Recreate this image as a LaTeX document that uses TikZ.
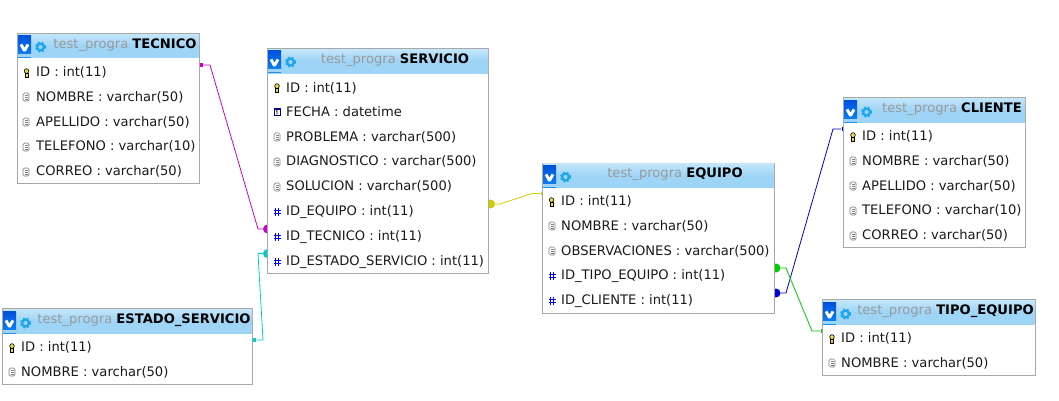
\documentclass[tikz,border=0pt]{standalone}
\usepackage{fontspec}
\setmainfont{DejaVu Sans}
\usetikzlibrary{positioning}
\definecolor{headblue}{HTML}{9ED4F6}
\definecolor{headtop}{HTML}{C4E6FA}
\definecolor{boxgrey}{HTML}{A8A8A8}
\definecolor{titlegrey}{HTML}{999999}
\definecolor{textblack}{HTML}{1A1A1A}
\definecolor{icontop}{HTML}{0050DC}
\definecolor{iconlow}{HTML}{0C7CF0}
\definecolor{iconline}{HTML}{1E90F0}
\definecolor{gearblue}{HTML}{1CA6EC}
\definecolor{keyyellow}{HTML}{E8D84A}
\definecolor{colgrey}{HTML}{808080}
\definecolor{relmagenta}{HTML}{CC00CC}
\definecolor{relcyan}{HTML}{00CCCC}
\definecolor{relyellow}{HTML}{CCCC00}
\definecolor{relblue}{HTML}{0000CC}
\definecolor{relgreen}{HTML}{00CC00}
\tikzset{tablebox/.style={draw=boxgrey, fill=white, line width=1pt, anchor=north west,
    inner sep=0pt, outer sep=0pt}}
\tikzset{headbar/.style={anchor=north west, inner sep=0pt, outer sep=0pt, top color=headtop,
    bottom color=headblue, middle color=headblue}}
\tikzset{tabletitle/.style={inner sep=0pt, anchor=base, font=\fontsize{13.1pt}{15pt}\selectfont}}
\tikzset{fieldtext/.style={inner sep=0pt, anchor=base west, text=textblack,
    font=\fontsize{13.1pt}{15pt}\selectfont}}
\tikzset{fkdot/.style={circle, fill=#1, inner sep=0pt, minimum size=9pt}}
\tikzset{pkmark/.style={rectangle, fill=#1, inner sep=0pt, minimum size=3.4pt}}
\tikzset{relline/.style={draw=#1, line width=.8pt}}
\tikzset{
  vicon/.pic={
    \shade[top color=icontop, bottom color=iconlow] (-8,-10) rectangle (5,8);
    \fill[iconline] (-8,11.5) rectangle (5,13);
    \draw[white, line width=2.9pt, line join=bevel] (-5,-.6) -- (-1.5,5.6) -- (2,-.6);
  },
  gearicon/.pic={
    \draw[gearblue, line width=2.2pt] (0,0) circle (3.4);
    \draw[gearblue, line width=1.1pt, dash pattern=on 2pt off 2.2pt] (0,0) circle (5.2);
  },
  keyicon/.pic={
    \draw[black, fill=keyyellow, line width=.6pt] (0,-2) circle (2.3);
    \draw[black, fill=keyyellow, line width=.6pt] (-1.3,0) rectangle (1.3,4);
    \draw[keyyellow, line width=.9pt] (-.8,-.4) -- (.8,-.4);
  },
  colicon/.pic={
    \draw[colgrey, fill=white, line width=.7pt, rounded corners=1.5pt] (-3,-4) rectangle (3,4);
    \draw[colgrey, line width=.6pt] (-1.5,-1.5) -- (1.5,-1.5) (-1.5,.5) -- (1.5,.5) (-1.5,2.5) -- (1.5,2.5);
  },
  dateicon/.pic={
    \draw[relblue!70!black, fill=white, line width=.8pt] (-3,-3.5) rectangle (3,3.5);
    \draw[relblue!70!black, line width=1.4pt] (-3,-3) -- (3,-3);
    \draw[black, line width=.7pt] (-1,-.8) -- (0,-1.5) -- (0,2.5);
  },
  hashicon/.pic={
    \draw[blue, line width=.9pt] (-1.4,-4) -- (-1.4,4) (1.4,-4) -- (1.4,4)
      (-3.5,-1.5) -- (3.5,-1.5) (-3.5,1.5) -- (3.5,1.5);
  }
}

\begin{document}
\begin{tikzpicture}[x=1pt, y=-1pt]
    \useasboundingbox (0,0) rectangle (1059,400);
    % relation ends
    \node[pkmark=relmagenta] (tecnicopk) at (201.5,65) {};
    \node[fkdot=relmagenta] (serviciotec) at (267.5,229) {};
    \node[pkmark=relcyan] (estadopk) at (254.5,340) {};
    \node[fkdot=relcyan] (servicioest) at (267.5,253.5) {};
    \node[pkmark=relyellow] (equipopk) at (542.3,193.5) {};
    \node[fkdot=relyellow] (servicioequ) at (490.5,204) {};
    \node[pkmark=relblue] (clientepk) at (843.3,129) {};
    \node[fkdot=relblue] (equipocli) at (776,293) {};
    \node[pkmark=relgreen] (tipopk) at (822.3,331) {};
    \node[fkdot=relgreen] (equipotip) at (776,268) {};
    % relations
    \draw[relline=relmagenta] (tecnicopk) -- (210,65) -- (258,229) -- (serviciotec);
    \draw[relline=relcyan] (estadopk) -- (263,340) -- (258,253.5) -- (servicioest);
    \draw[relline=relyellow] (servicioequ) -- (500,204) -- (532,193.5) -- (equipopk);
    \draw[relline=relblue] (equipocli) -- (786,293) -- (833,129) -- (clientepk);
    \draw[relline=relgreen] (equipotip) -- (786,268) -- (812,331) -- (tipopk);

    % TECNICO
    \node[tablebox, minimum width=182pt, minimum height=150pt] (tecnico) at (17.5,33.5) {};
    \node[headbar, minimum width=181pt, minimum height=23.5pt] (tecnicohead) at (18,34) {};
    \pic at (26,45) {vicon};
    \pic at (40.5,47) {gearicon};
    \node[tabletitle] (tecnicotitle) at (125,48.4) {\textcolor{titlegrey}{test\_progra} \textbf{TECNICO}};
    \pic at (26.5,73) {keyicon};
    \node[fieldtext] (tecnico1) at (36,76.7) {ID : int(11)};
    \pic at (26,97) {colicon};
    \node[fieldtext] (tecnico2) at (36,101.7) {NOMBRE : varchar(50)};
    \pic at (26,122) {colicon};
    \node[fieldtext] (tecnico3) at (36,126.7) {APELLIDO : varchar(50)};
    \pic at (26,147) {colicon};
    \node[fieldtext] (tecnico4) at (36,150.7) {TELEFONO : varchar(10)};
    \pic at (26,172) {colicon};
    \node[fieldtext] (tecnico5) at (36,175.7) {CORREO : varchar(50)};

    % SERVICIO
    \node[tablebox, minimum width=221pt, minimum height=225pt] (servicio) at (267.5,48.5) {};
    \node[headbar, minimum width=220pt, minimum height=24pt] (serviciohead) at (268,49) {};
    \pic at (276,60) {vicon};
    \pic at (290.5,62) {gearicon};
    \node[tabletitle] (serviciotitle) at (395,63.4) {\textcolor{titlegrey}{test\_progra} \textbf{SERVICIO}};
    \pic at (277,88) {keyicon};
    \node[fieldtext] (servicio1) at (286,92) {ID : int(11)};
    \pic at (277,112) {dateicon};
    \node[fieldtext] (servicio2) at (286,116.7) {FECHA : datetime};
    \pic at (277,137) {colicon};
    \node[fieldtext] (servicio3) at (286,141.7) {PROBLEMA : varchar(500)};
    \pic at (277,162) {colicon};
    \node[fieldtext] (servicio4) at (286,165.7) {DIAGNOSTICO : varchar(500)};
    \pic at (277,187) {colicon};
    \node[fieldtext] (servicio5) at (286,190.7) {SOLUCION : varchar(500)};
    \pic at (277,212) {hashicon};
    \node[fieldtext] (servicio6) at (286,215.7) {ID\_EQUIPO : int(11)};
    \pic at (277,237) {hashicon};
    \node[fieldtext] (servicio7) at (286,240.7) {ID\_TECNICO : int(11)};
    \pic at (277,262) {hashicon};
    \node[fieldtext] (servicio8) at (286,265.7) {ID\_ESTADO\_SERVICIO : int(11)};

    % EQUIPO
    \node[tablebox, minimum width=232pt, minimum height=150pt] (equipo) at (542.5,163) {};
    \node[headbar, minimum width=231pt, minimum height=24pt] (equipohead) at (543,163.5) {};
    \pic at (551,175) {vicon};
    \pic at (565.5,177) {gearicon};
    \node[tabletitle] (equipotitle) at (675,177) {\textcolor{titlegrey}{test\_progra} \textbf{EQUIPO}};
    \pic at (551.5,202) {keyicon};
    \node[fieldtext] (equipo1) at (561,205.7) {ID : int(11)};
    \pic at (552,226) {colicon};
    \node[fieldtext] (equipo2) at (561,230.7) {NOMBRE : varchar(50)};
    \pic at (552,251) {colicon};
    \node[fieldtext] (equipo3) at (561,255.7) {OBSERVACIONES : varchar(500)};
    \pic at (552,276) {hashicon};
    \node[fieldtext] (equipo4) at (561,279.7) {ID\_TIPO\_EQUIPO : int(11)};
    \pic at (552,301) {hashicon};
    \node[fieldtext] (equipo5) at (561,304.7) {ID\_CLIENTE : int(11)};

    % CLIENTE
    \node[tablebox, minimum width=182pt, minimum height=150pt] (cliente) at (843.5,97.5) {};
    \node[headbar, minimum width=181pt, minimum height=24pt] (clientehead) at (844,98) {};
    \pic at (852,110) {vicon};
    \pic at (866.5,112) {gearicon};
    \node[tabletitle] (clientetitle) at (952,112) {\textcolor{titlegrey}{test\_progra} \textbf{CLIENTE}};
    \pic at (853,137) {keyicon};
    \node[fieldtext] (cliente1) at (862,140.7) {ID : int(11)};
    \pic at (853,161) {colicon};
    \node[fieldtext] (cliente2) at (862,165.7) {NOMBRE : varchar(50)};
    \pic at (853,186) {colicon};
    \node[fieldtext] (cliente3) at (862,190.7) {APELLIDO : varchar(50)};
    \pic at (853,211) {colicon};
    \node[fieldtext] (cliente4) at (862,214.7) {TELEFONO : varchar(10)};
    \pic at (853,236) {colicon};
    \node[fieldtext] (cliente5) at (862,239.7) {CORREO : varchar(50)};

    % TIPO_EQUIPO
    \node[tablebox, minimum width=213pt, minimum height=76pt] (tipo) at (822.5,299.5) {};
    \node[headbar, minimum width=212pt, minimum height=24pt] (tipohead) at (823,300) {};
    \pic at (831,312) {vicon};
    \pic at (845.5,314) {gearicon};
    \node[tabletitle] (tipotitle) at (945.5,314) {\textcolor{titlegrey}{test\_progra} \textbf{TIPO\_EQUIPO}};
    \pic at (832,339) {keyicon};
    \node[fieldtext] (tipo1) at (841,342.7) {ID : int(11)};
    \pic at (832,363) {colicon};
    \node[fieldtext] (tipo2) at (841,367.7) {NOMBRE : varchar(50)};

    % ESTADO_SERVICIO
    \node[tablebox, minimum width=250pt, minimum height=76pt] (estado) at (2.5,308.5) {};
    \node[headbar, minimum width=249pt, minimum height=24pt] (estadohead) at (3,309) {};
    \pic at (11,321) {vicon};
    \pic at (25.5,323) {gearicon};
    \node[tabletitle] (estadotitle) at (144,323) {\textcolor{titlegrey}{test\_progra} \textbf{ESTADO\_SERVICIO}};
    \pic at (12,348) {keyicon};
    \node[fieldtext] (estado1) at (21,351.7) {ID : int(11)};
    \pic at (12,372) {colicon};
    \node[fieldtext] (estado2) at (21,376.7) {NOMBRE : varchar(50)};
\end{tikzpicture}
\end{document}
